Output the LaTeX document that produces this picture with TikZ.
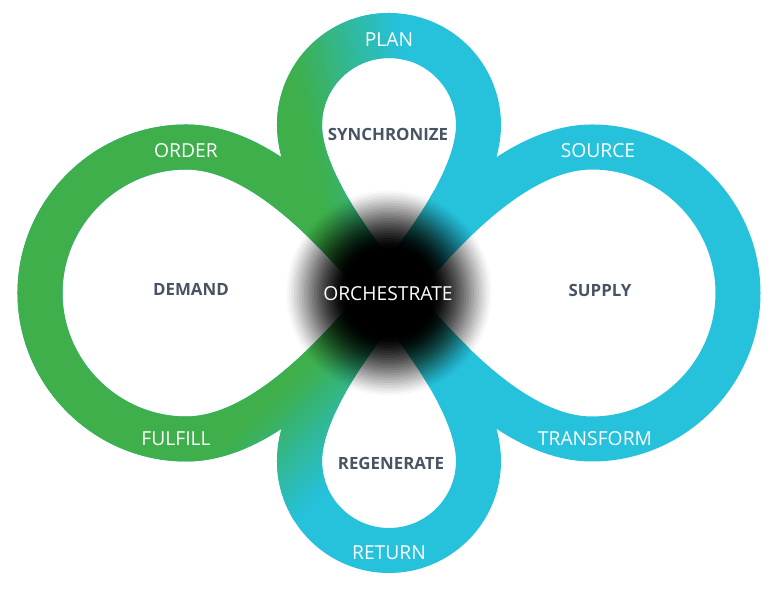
\documentclass[tikz,border=0pt]{standalone}
\usepackage{fontspec}
\setmainfont{Open Sans}
\usepackage{tikz}
\definecolor{leafgreen}{RGB}{62,175,74}
\definecolor{skyblue}{RGB}{38,193,219}
\definecolor{labelgray}{RGB}{72,84,99}

% the four petals, all starting and ending in the middle
\newcommand{\drawpetals}[1]{%
  \foreach \flip in {1,-1} {
    \draw[band, draw=#1, xscale=\flip] (0,0) .. controls (-45,54) and (-123,146) .. (-203,146) .. controls (-283,146) and (-349,80) .. (-349,0) .. controls (-349,-80) and (-283,-146) .. (-203,-146) .. controls (-123,-146) and (-45,-54) .. (0,0);
    \draw[band, draw=#1, yscale=\flip] (0,0) .. controls (-32,38) and (-89.5,113) .. (-89.5,168) .. controls (-89.5,217.4) and (-49.4,257.5) .. (0,257.5) .. controls (49.4,257.5) and (89.5,217.4) .. (89.5,168) .. controls (89.5,113) and (32,38) .. (0,0);
  }}

\tikzset{
  band/.style={line width=1.125cm},
  steplabel/.style={text=white, font=\fontsize{13.7}{16}\selectfont, inner sep=0pt},
  arealabel/.style={text=labelgray, font=\bfseries\fontsize{12}{14}\selectfont, inner sep=0pt}
}

\begin{document}
\begin{tikzpicture}[x=0.025cm, y=0.025cm]
        \useasboundingbox (-389,-303) rectangle (395,293);

        % Base loops
        \drawpetals{skyblue}

        % Upper half: green on the left, blending into blue
        \begin{scope}
            \clip (-400,0) rectangle (400,300);
            \clip[rotate=12] (-700,-700) rectangle (-45,700);
            \drawpetals{leafgreen}
        \end{scope}
        \foreach \k in {0,...,21} {
            \pgfmathtruncatemacro{\mix}{100-(\k+0.5)*100/22}
            \begin{scope}
                \clip (-400,0) rectangle (400,300);
                \clip[rotate=12] (-45+5*\k,-700) rectangle (-39.5+5*\k,700);
                \drawpetals{leafgreen!\mix!skyblue}
            \end{scope}
        }

        % Lower half: blend runs on a slant
        \begin{scope}
            \clip (-400,0) rectangle (400,-310);
            \clip[rotate=-45] (-700,-700) rectangle (-5,700);
            \drawpetals{leafgreen}
        \end{scope}
        \foreach \k in {0,...,19} {
            \pgfmathtruncatemacro{\mix}{100-(\k+0.5)*100/20}
            \begin{scope}
                \clip (-400,0) rectangle (400,-310);
                \clip[rotate=-45] (-5+5*\k,-700) rectangle (0.5+5*\k,700);
                \drawpetals{leafgreen!\mix!skyblue}
            \end{scope}
        }

        % Dark centre: see-through discs stacked up
        \foreach \rad in {102.5,100,...,47.5} {
            \pgfmathsetmacro{\uin}{(\rad-45)/60}
            \pgfmathsetmacro{\uout}{min(0.999,(\rad-42.5)/60)}
            \pgfmathsetmacro{\tin}{1-(1-\uin^1.5)^1.3}
            \pgfmathsetmacro{\tout}{1-(1-\uout^1.5)^1.3}
            \pgfmathsetmacro{\op}{1-\tin/\tout}
            \fill[black, opacity=\op] (0,0) circle (\rad);
        }
        \fill[black] (0,0) circle (45);

        % Labels on the loops
        \node[steplabel] (plan) at (0,253) {PLAN};
        \node[steplabel] (order) at (-203,142) {ORDER};
        \node[steplabel] (source) at (209,142) {SOURCE};
        \node[steplabel] (fulfill) at (-213,-146) {FULFILL};
        \node[steplabel] (transform) at (206,-146) {TRANSFORM};
        \node[steplabel] (return) at (0,-260) {RETURN};
        \node[steplabel] (orchestrate) at (-1,-1) {ORCHESTRATE};

        % Labels inside the loops
        \node[arealabel] (synchronize) at (-1,159) {SYNCHRONIZE};
        \node[arealabel] (demand) at (-198,4) {DEMAND};
        \node[arealabel] (supply) at (211,3) {SUPPLY};
        \node[arealabel] (regenerate) at (2,-170) {REGENERATE};
    \end{tikzpicture}
\end{document}
